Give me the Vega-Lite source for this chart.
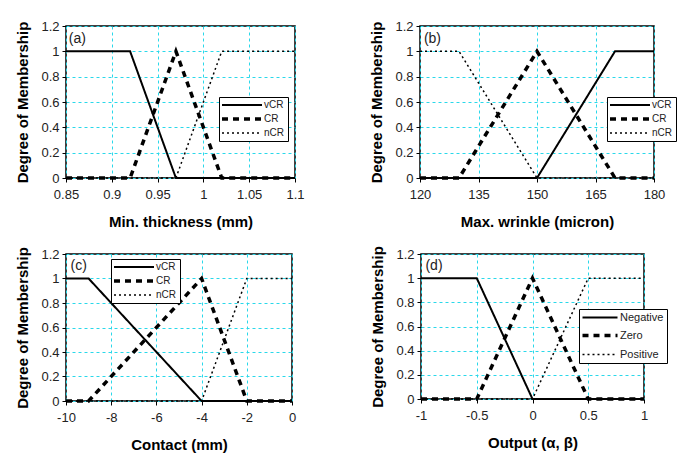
{
  "$schema": "https://vega.github.io/schema/vega-lite/v6.json",
  "padding": {"left": 15, "top": 19, "right": 5, "bottom": 5},
  "background": "white",
  "config": {
    "font": "Liberation Sans",
    "view": {"stroke": "black", "strokeWidth": 1.5},
    "axis": {
      "labelFont": "Liberation Sans", "labelFontSize": 13, "labelColor": "#222", "labelOverlap": false,
      "labelExpr": "'' + datum.value",
      "titleFont": "Liberation Sans", "titleFontSize": 15, "titleFontWeight": "bold", "titleColor": "black",
      "gridColor": "#2ad8ea", "gridDash": [3, 3], "gridWidth": 1, "gridOpacity": 1,
      "domain": false, "tickColor": "black", "tickSize": 4, "labelPadding": 3
    },
    "axisX": {"titlePadding": 13, "labelFlush": false, "labelPadding": 6},
    "axisY": {"titlePadding": 10},
    "legend": {
      "orient": "none", "strokeColor": "black", "fillColor": "white", "padding": 3,
      "symbolType": "M-1,0H7", "symbolSize": 100, "symbolStrokeColor": "black", "symbolFillColor": "transparent",
      "labelFontSize": 10, "labelFont": "Liberation Sans",
      "labelOffset": 32, "rowPadding": 2, "title": null, "labelColor": "#222"
    }
  },
  "datasets": {
    "lines": [
      {"panel": "a", "series": "vCR", "x": 0.85, "y": 1}, {"panel": "a", "series": "vCR", "x": 0.92, "y": 1}, {"panel": "a", "series": "vCR", "x": 0.97, "y": 0}, {"panel": "a", "series": "vCR", "x": 1.1, "y": 0},
      {"panel": "a", "series": "CR", "x": 0.85, "y": 0}, {"panel": "a", "series": "CR", "x": 0.92, "y": 0}, {"panel": "a", "series": "CR", "x": 0.97, "y": 1}, {"panel": "a", "series": "CR", "x": 1.02, "y": 0}, {"panel": "a", "series": "CR", "x": 1.1, "y": 0},
      {"panel": "a", "series": "nCR", "x": 0.85, "y": 0}, {"panel": "a", "series": "nCR", "x": 0.97, "y": 0}, {"panel": "a", "series": "nCR", "x": 1.02, "y": 1}, {"panel": "a", "series": "nCR", "x": 1.1, "y": 1},
      {"panel": "b", "series": "vCR", "x": 120, "y": 0}, {"panel": "b", "series": "vCR", "x": 150, "y": 0}, {"panel": "b", "series": "vCR", "x": 170, "y": 1}, {"panel": "b", "series": "vCR", "x": 180, "y": 1},
      {"panel": "b", "series": "CR", "x": 120, "y": 0}, {"panel": "b", "series": "CR", "x": 130, "y": 0}, {"panel": "b", "series": "CR", "x": 150, "y": 1}, {"panel": "b", "series": "CR", "x": 170, "y": 0}, {"panel": "b", "series": "CR", "x": 180, "y": 0},
      {"panel": "b", "series": "nCR", "x": 120, "y": 1}, {"panel": "b", "series": "nCR", "x": 130, "y": 1}, {"panel": "b", "series": "nCR", "x": 150, "y": 0}, {"panel": "b", "series": "nCR", "x": 180, "y": 0},
      {"panel": "c", "series": "vCR", "x": -10, "y": 1}, {"panel": "c", "series": "vCR", "x": -9, "y": 1}, {"panel": "c", "series": "vCR", "x": -4, "y": 0}, {"panel": "c", "series": "vCR", "x": 0, "y": 0},
      {"panel": "c", "series": "CR", "x": -10, "y": 0}, {"panel": "c", "series": "CR", "x": -9, "y": 0}, {"panel": "c", "series": "CR", "x": -4, "y": 1}, {"panel": "c", "series": "CR", "x": -2, "y": 0}, {"panel": "c", "series": "CR", "x": 0, "y": 0},
      {"panel": "c", "series": "nCR", "x": -10, "y": 0}, {"panel": "c", "series": "nCR", "x": -4, "y": 0}, {"panel": "c", "series": "nCR", "x": -2, "y": 1}, {"panel": "c", "series": "nCR", "x": 0, "y": 1},
      {"panel": "d", "series": "Negative", "x": -1, "y": 1}, {"panel": "d", "series": "Negative", "x": -0.5, "y": 1}, {"panel": "d", "series": "Negative", "x": 0, "y": 0}, {"panel": "d", "series": "Negative", "x": 1, "y": 0},
      {"panel": "d", "series": "Zero", "x": -1, "y": 0}, {"panel": "d", "series": "Zero", "x": -0.5, "y": 0}, {"panel": "d", "series": "Zero", "x": 0, "y": 1}, {"panel": "d", "series": "Zero", "x": 0.5, "y": 0}, {"panel": "d", "series": "Zero", "x": 1, "y": 0},
      {"panel": "d", "series": "Positive", "x": -1, "y": 0}, {"panel": "d", "series": "Positive", "x": 0, "y": 0}, {"panel": "d", "series": "Positive", "x": 0.5, "y": 1}, {"panel": "d", "series": "Positive", "x": 1, "y": 1}
    ],
    "labels": [
      {"panel": "a", "label": "(a)", "x": 0.853, "y": 1.1},
      {"panel": "b", "label": "(b)", "x": 121, "y": 1.1},
      {"panel": "c", "label": "(c)", "x": -9.8, "y": 1.1},
      {"panel": "d", "label": "(d)", "x": -0.96, "y": 1.1}
    ]
  },
  "resolve": {"scale": {"x": "independent", "y": "independent", "strokeDash": "independent"}, "legend": {"strokeDash": "independent"}},
  "spacing": 14,
  "vconcat": [
    {
      "spacing": 64,
      "resolve": {"scale": {"x": "independent", "y": "independent", "strokeDash": "independent"}, "legend": {"strokeDash": "independent"}},
      "hconcat": [
        {
          "width": 229, "height": 152,
          "encoding": {
            "x": {"field": "x", "type": "quantitative", "scale": {"domain": [0.85, 1.1], "nice": false, "zero": false}, "axis": {"values": [0.85, 0.9, 0.95, 1, 1.05, 1.1], "title": "Min. thickness (mm)"}},
            "y": {"field": "y", "type": "quantitative", "scale": {"domain": [0, 1.2], "nice": false}, "axis": {"values": [0, 0.2, 0.4, 0.6, 0.8, 1, 1.2], "title": "Degree of Membership"}}
          },
          "layer": [
            {
              "data": {"name": "lines"},
              "transform": [{"filter": "datum.panel == 'a'"}],
              "mark": {"type": "line", "color": "black", "strokeCap": "butt"},
              "encoding": {
                "strokeDash": {"field": "series", "type": "nominal", "scale": {"domain": ["vCR", "CR", "nCR"], "range": [[1, 0], [6, 5], [2, 3]]},
                  "legend": {"legendX": 153, "legendY": 71, "encode": {"symbols": {"update": {"strokeWidth": {"signal": "datum.value === 'CR' ? 3.5 : datum.value === 'vCR' ? 2 : 1.5"}}}}}},
                "strokeWidth": {"condition": [{"test": "datum.series === 'CR'", "value": 3.5}, {"test": "datum.series === 'vCR'", "value": 2}], "value": 1.5}
              }
            },
            {
              "data": {"name": "labels"},
              "transform": [{"filter": "datum.panel == 'a'"}],
              "mark": {"type": "text", "align": "left", "baseline": "middle", "fontSize": 14, "color": "#222"},
              "encoding": {"text": {"field": "label"}}
            }
          ]
        },
        {
          "width": 234, "height": 152,
          "encoding": {
            "x": {"field": "x", "type": "quantitative", "scale": {"domain": [120, 180], "nice": false, "zero": false}, "axis": {"values": [120, 135, 150, 165, 180], "title": "Max. wrinkle (micron)"}},
            "y": {"field": "y", "type": "quantitative", "scale": {"domain": [0, 1.2], "nice": false}, "axis": {"values": [0, 0.2, 0.4, 0.6, 0.8, 1, 1.2], "title": "Degree of Membership"}}
          },
          "layer": [
            {
              "data": {"name": "lines"},
              "transform": [{"filter": "datum.panel == 'b'"}],
              "mark": {"type": "line", "color": "black", "strokeCap": "butt"},
              "encoding": {
                "strokeDash": {"field": "series", "type": "nominal", "scale": {"domain": ["vCR", "CR", "nCR"], "range": [[1, 0], [6, 5], [2, 3]]},
                  "legend": {"legendX": 187, "legendY": 71, "encode": {"symbols": {"update": {"strokeWidth": {"signal": "datum.value === 'CR' ? 3.5 : datum.value === 'vCR' ? 2 : 1.5"}}}}}},
                "strokeWidth": {"condition": [{"test": "datum.series === 'CR'", "value": 3.5}, {"test": "datum.series === 'vCR'", "value": 2}], "value": 1.5}
              }
            },
            {
              "data": {"name": "labels"},
              "transform": [{"filter": "datum.panel == 'b'"}],
              "mark": {"type": "text", "align": "left", "baseline": "middle", "fontSize": 14, "color": "#222"},
              "encoding": {"text": {"field": "label"}}
            }
          ]
        }
      ]
    },
    {
      "spacing": 70,
      "resolve": {"scale": {"x": "independent", "y": "independent", "strokeDash": "independent"}, "legend": {"strokeDash": "independent"}},
      "hconcat": [
        {
          "width": 226, "height": 147,
          "encoding": {
            "x": {"field": "x", "type": "quantitative", "scale": {"domain": [-10, 0], "nice": false}, "axis": {"values": [-10, -8, -6, -4, -2, 0], "title": "Contact (mm)"}},
            "y": {"field": "y", "type": "quantitative", "scale": {"domain": [0, 1.2], "nice": false}, "axis": {"values": [0, 0.2, 0.4, 0.6, 0.8, 1, 1.2], "title": "Degree of Membership"}}
          },
          "layer": [
            {
              "data": {"name": "lines"},
              "transform": [{"filter": "datum.panel == 'c'"}],
              "mark": {"type": "line", "color": "black", "strokeCap": "butt"},
              "encoding": {
                "strokeDash": {"field": "series", "type": "nominal", "scale": {"domain": ["vCR", "CR", "nCR"], "range": [[1, 0], [6, 5], [2, 3]]},
                  "legend": {"legendX": 45, "legendY": 5, "encode": {"symbols": {"update": {"strokeWidth": {"signal": "datum.value === 'CR' ? 3.5 : datum.value === 'vCR' ? 2 : 1.5"}}}}}},
                "strokeWidth": {"condition": [{"test": "datum.series === 'CR'", "value": 3.5}, {"test": "datum.series === 'vCR'", "value": 2}], "value": 1.5}
              }
            },
            {
              "data": {"name": "labels"},
              "transform": [{"filter": "datum.panel == 'c'"}],
              "mark": {"type": "text", "align": "left", "baseline": "middle", "fontSize": 14, "color": "#222"},
              "encoding": {"text": {"field": "label"}}
            }
          ]
        },
        {
          "width": 223, "height": 145,
          "encoding": {
            "x": {"field": "x", "type": "quantitative", "scale": {"domain": [-1, 1], "nice": false}, "axis": {"values": [-1, -0.5, 0, 0.5, 1], "title": "Output (α, β)"}},
            "y": {"field": "y", "type": "quantitative", "scale": {"domain": [0, 1.2], "nice": false}, "axis": {"values": [0, 0.2, 0.4, 0.6, 0.8, 1, 1.2], "title": "Degree of Membership"}}
          },
          "layer": [
            {
              "data": {"name": "lines"},
              "transform": [{"filter": "datum.panel == 'd'"}],
              "mark": {"type": "line", "color": "black", "strokeCap": "butt"},
              "encoding": {
                "strokeDash": {"field": "series", "type": "nominal", "scale": {"domain": ["Negative", "Zero", "Positive"], "range": [[1, 0], [6, 5], [2, 3]]},
                  "legend": {"legendX": 158, "legendY": 55, "symbolType": "M-1,0H6", "labelOffset": 27, "rowPadding": 5, "labelFontSize": 11,
                    "encode": {"symbols": {"update": {"strokeWidth": {"signal": "datum.value === 'Zero' ? 3.5 : datum.value === 'Negative' ? 2 : 1.5"}}}}}},
                "strokeWidth": {"condition": [{"test": "datum.series === 'Zero'", "value": 3.5}, {"test": "datum.series === 'Negative'", "value": 2}], "value": 1.5}
              }
            },
            {
              "data": {"name": "labels"},
              "transform": [{"filter": "datum.panel == 'd'"}],
              "mark": {"type": "text", "align": "left", "baseline": "middle", "fontSize": 14, "color": "#222"},
              "encoding": {"text": {"field": "label"}}
            }
          ]
        }
      ]
    }
  ]
}
